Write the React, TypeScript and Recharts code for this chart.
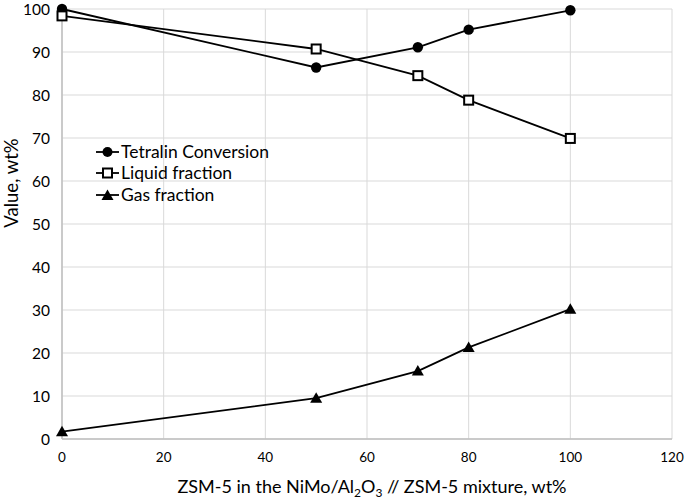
import React from "react";
import { LineChart, Line, XAxis, YAxis, CartesianGrid, Legend, Label } from "recharts";

const xValues = [0, 50, 70, 80, 100];
const tetralinConversion = [100, 86.4, 91.1, 95.2, 99.7];
const liquidFraction = [98.4, 90.7, 84.5, 78.8, 69.9];
const gasFraction = [1.7, 9.5, 15.8, 21.3, 30.2];
const xTicks = [0, 20, 40, 60, 80, 100, 120];
const yTicks = [0, 10, 20, 30, 40, 50, 60, 70, 80, 90, 100];

const data = xValues.map((x, i) => ({
  x,
  tetralin: tetralinConversion[i],
  liquid: liquidFraction[i],
  gas: gasFraction[i],
}));

const FONT = "Lato, 'Open Sans', sans-serif";

const CircleDot = (p: any) =>
  p.cx == null ? null : <circle key={p.key} cx={p.cx} cy={p.cy} r={5.2} fill="#000" />;
const SquareDot = (p: any) =>
  p.cx == null ? null : (
    <rect key={p.key} x={p.cx - 4.5} y={p.cy - 4.5} width={9} height={9} fill="#fff" stroke="#000" strokeWidth={2} />
  );
const TriDot = (p: any) =>
  p.cx == null ? null : (
    <path key={p.key} d={`M${p.cx},${p.cy - 6} L${p.cx + 6},${p.cy + 4.5} L${p.cx - 6},${p.cy + 4.5} Z`} fill="#000" />
  );

const legendItems = [
  { name: "Tetralin Conversion", type: "circle" },
  { name: "Liquid fraction", type: "square" },
  { name: "Gas fraction", type: "tri" },
];

const LegendContent = () => (
  <div style={{ fontFamily: FONT, fontSize: 17.5, color: "#000", lineHeight: "20px" }}>
    {legendItems.map((it) => (
      <div key={it.name} style={{ display: "flex", alignItems: "center", height: 21.5 }}>
        <svg width={25} height={14} style={{ marginRight: 1 }}>
          <line x1={1} y1={7} x2={24} y2={7} stroke="#000" strokeWidth={1.8} />
          {it.type === "circle" && <circle cx={12.5} cy={7} r={5} fill="#000" />}
          {it.type === "square" && <rect x={8} y={2.5} width={9} height={9} fill="#fff" stroke="#000" strokeWidth={2} />}
          {it.type === "tri" && <path d="M12.5,1.5 L18.5,12 L6.5,12 Z" fill="#000" />}
        </svg>
        <span>{it.name}</span>
      </div>
    ))}
  </div>
);

const XLabel = () => (
  <text x={372} y={493} textAnchor="middle" fontFamily={FONT} fontSize={18} fill="#000">
    ZSM-5 in the NiMo/Al
    <tspan fontSize={12} dy={4}>2</tspan>
    <tspan dy={-4}>O</tspan>
    <tspan fontSize={12} dy={4}>3</tspan>
    <tspan dy={-4}>{"  // ZSM-5 mixture, wt%"}</tspan>
  </text>
);

const YLabel = () => (
  <text x={18} y={183} transform="rotate(-90 18 183)" textAnchor="middle" fontFamily={FONT} fontSize={18.5} fill="#000">
    Value, wt%
  </text>
);

export default function App() {
  return (
    <div style={{ position: "absolute", left: 0, top: 0, background: "#fff" }}>
      <LineChart width={685} height={501} data={data} margin={{ top: 9, right: 13, left: 22, bottom: 32 }}>
        <CartesianGrid stroke="#d9d9d9" strokeWidth={1} />
        <XAxis
          dataKey="x"
          type="number"
          domain={[0, 120]}
          ticks={xTicks}
          tickLine={false}
          tickSize={6}
          tickMargin={7}
          axisLine={{ stroke: "#bfbfbf", strokeWidth: 1.5 }}
          tick={{ fontFamily: FONT, fontSize: 13.5, fill: "#000" }}
          height={30}
        >
          <Label content={XLabel} />
        </XAxis>
        <YAxis
          type="number"
          domain={[0, 100]}
          ticks={yTicks}
          tickLine={false}
          tickSize={6}
          tickMargin={6}
          width={40}
          axisLine={{ stroke: "#bfbfbf", strokeWidth: 1.5 }}
          tick={{ fontFamily: FONT, fontSize: 15.5, fill: "#000" }}
        >
          <Label content={YLabel} />
        </YAxis>
        <Legend
          layout="horizontal"
          verticalAlign="middle"
          align="center"
          content={<LegendContent />}
          wrapperStyle={{ left: 95, top: 141, width: "auto", height: "auto" }}
        />
        <Line dataKey="tetralin" name="Tetralin Conversion" stroke="#000" strokeWidth={1.8} dot={CircleDot} isAnimationActive={false} />
        <Line dataKey="liquid" name="Liquid fraction" stroke="#000" strokeWidth={1.8} dot={SquareDot} isAnimationActive={false} />
        <Line dataKey="gas" name="Gas fraction" stroke="#000" strokeWidth={1.8} dot={TriDot} isAnimationActive={false} />
      </LineChart>
    </div>
  );
}
